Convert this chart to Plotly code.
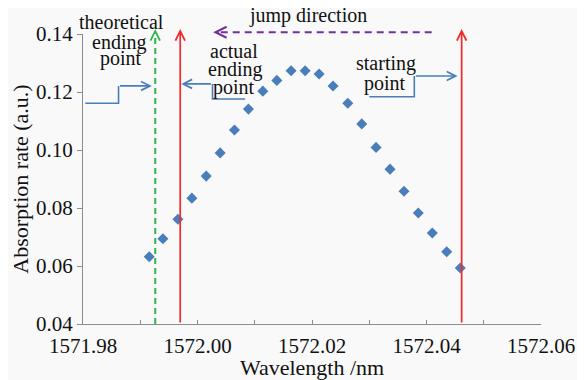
import plotly.graph_objects as go

# ---- data ----
wavelength_nm = [1571.99157, 1571.99396, 1571.99658, 1571.99902, 1572.00152, 1572.00396,
                 1572.00646, 1572.00890, 1572.01141, 1572.01386, 1572.01635, 1572.01880,
                 1572.02124, 1572.02368, 1572.02625, 1572.02869, 1572.03119, 1572.03363,
                 1572.03607, 1572.03857, 1572.04101, 1572.04353, 1572.04590]
absorption_rate = [0.0632, 0.0694, 0.0761, 0.0834, 0.0910, 0.0990,
                   0.1069, 0.1141, 0.1203, 0.1240, 0.1273, 0.1273,
                   0.1262, 0.1221, 0.1161, 0.1090, 0.1009, 0.0934,
                   0.0858, 0.0783, 0.0714, 0.0649, 0.0593]

x_range = [1571.98, 1572.06]
y_range = [0.04, 0.14]
x_tick_step = 0.02
y_tick_step = 0.02

theoretical_end = 1571.99262
actual_end = 1571.99698
starting_point = 1572.04614
marker_top = 0.14172

SERIF = "Liberation Serif, serif"
BLUE = "#4a7ebb"
RED = "#ee2a2a"
GREEN = "#2fb84a"
PURPLE = "#7030a0"
AXIS_GREY = "#8c8c8c"
TEXT = "#111111"


def to_paper_y(v):
    return (v - y_range[0]) / (y_range[1] - y_range[0])


fig = go.Figure()
fig.add_trace(go.Scatter(
    x=wavelength_nm, y=absorption_rate, mode="markers",
    marker=dict(symbol="diamond", size=8.5, color=BLUE, line=dict(width=0)),
    showlegend=False, hoverinfo="skip"))

shapes = []
annotations = []

# green dashed theoretical ending line with open arrowhead
shapes.append(dict(type="line", xref="x", yref="paper",
                   x0=theoretical_end, x1=theoretical_end,
                   y0=0, y1=to_paper_y(marker_top) - 0.02,
                   line=dict(color=GREEN, width=2, dash="6px,4px")))
annotations.append(dict(x=theoretical_end, y=to_paper_y(marker_top), xref="x", yref="paper",
                        ax=0, ay=6, text="", showarrow=True,
                        arrowhead=5, arrowsize=1.1, arrowwidth=1.7, arrowcolor=GREEN))

# red solid lines with arrowheads
for xv in (actual_end, starting_point):
    annotations.append(dict(x=xv, y=marker_top, ax=xv, ay=y_range[0],
                            xref="x", yref="y", axref="x", ayref="y", text="", showarrow=True,
                            arrowhead=5, arrowsize=1.1, arrowwidth=1.7, arrowcolor=RED))

# purple dashed jump-direction arrow
jump_y = 0.14059
jump_tail = 1572.04091
jump_head = 1572.00274
shapes.append(dict(type="line", xref="x", yref="paper",
                   x0=jump_tail, x1=jump_head + 0.0012,
                   y0=to_paper_y(jump_y), y1=to_paper_y(jump_y),
                   line=dict(color=PURPLE, width=2, dash="7px,5px")))
annotations.append(dict(x=jump_head, y=to_paper_y(jump_y), xref="x", yref="paper",
                        ax=6, ay=0, text="", showarrow=True,
                        arrowhead=5, arrowsize=1.2, arrowwidth=1.8, arrowcolor=PURPLE))

# blue step arrows (polyline + arrowhead on last segment)
step_arrows = [
    [(1571.98040, 0.11610), (1571.98621, 0.11610), (1571.98621, 0.12210), (1571.99204, 0.12210)],
    [(1572.00832, 0.11760), (1572.00262, 0.11760), (1572.00262, 0.12280), (1571.99716, 0.12280)],
    [(1572.03002, 0.11838), (1572.03787, 0.11838), (1572.03787, 0.12552), (1572.04544, 0.12552)],
]
for pts in step_arrows:
    path = "M " + " L ".join(f"{px},{py}" for px, py in pts[:-1])
    shapes.append(dict(type="path", xref="x", yref="y", path=path,
                       line=dict(color=BLUE, width=1.6)))
    (tx, ty), (hx, hy) = pts[-2], pts[-1]
    annotations.append(dict(x=hx, y=hy, ax=tx, ay=ty, xref="x", yref="y", axref="x", ayref="y",
                            text="", showarrow=True, arrowhead=5, arrowsize=1.1,
                            arrowwidth=1.6, arrowcolor=BLUE))

# labels (x in data units; paper y so labels above the axis range still show)
labels = [
    ("theoretical", 1571.98681, 0.14397),
    ("ending", 1571.98625, 0.13724),
    ("point", 1571.98660, 0.13172),
    ("actual", 1572.00640, 0.13414),
    ("ending", 1572.00649, 0.12793),
    ("point", 1572.00640, 0.12172),
    ("starting", 1572.03293, 0.12976),
    ("point", 1572.03276, 0.12310),
    ("jump direction", 1572.01923, 0.14631),
]
for txt, lx, ly in labels:
    annotations.append(dict(x=lx, y=to_paper_y(ly), xref="x", yref="paper", text=txt,
                            showarrow=False, xanchor="center", yanchor="middle",
                            font=dict(family=SERIF, size=20, color=TEXT)))

# page body adds an 8px offset, so the figure is 8px smaller than the window
fig.update_layout(
    width=577, height=372,
    margin=dict(l=75, r=44, t=26, b=56, autoexpand=False),
    paper_bgcolor="#f9f9f9", plot_bgcolor="#f9f9f9",
    shapes=shapes, annotations=annotations,
    showlegend=False,
    font=dict(family=SERIF, color=TEXT),
)
fig.update_xaxes(
    range=x_range, dtick=x_tick_step, tick0=x_range[0], tickformat=".2f",
    automargin=False,
    showgrid=False, zeroline=False, showline=True, linecolor=AXIS_GREY, linewidth=1,
    ticks="inside", ticklen=4, tickcolor=AXIS_GREY, ticklabelstandoff=3,
    minor=dict(dtick=x_tick_step / 2, ticks="inside", ticklen=4, tickcolor=AXIS_GREY, showgrid=False),
    tickfont=dict(family=SERIF, size=21, color=TEXT),
    title=dict(text="Wavelength /nm", font=dict(family=SERIF, size=22, color=TEXT), standoff=6),
)
fig.update_yaxes(
    range=y_range, dtick=y_tick_step, tick0=y_range[0], tickformat=".2f",
    automargin=False,
    showgrid=False, zeroline=False, showline=True, linecolor=AXIS_GREY, linewidth=1,
    ticks="outside", ticklen=5, tickcolor=AXIS_GREY,
    tickfont=dict(family=SERIF, size=21, color=TEXT),
    title=dict(text="Absorption rate (a.u.)", font=dict(family=SERIF, size=22, color=TEXT), standoff=4),
)

fig.write_html("out.html")
